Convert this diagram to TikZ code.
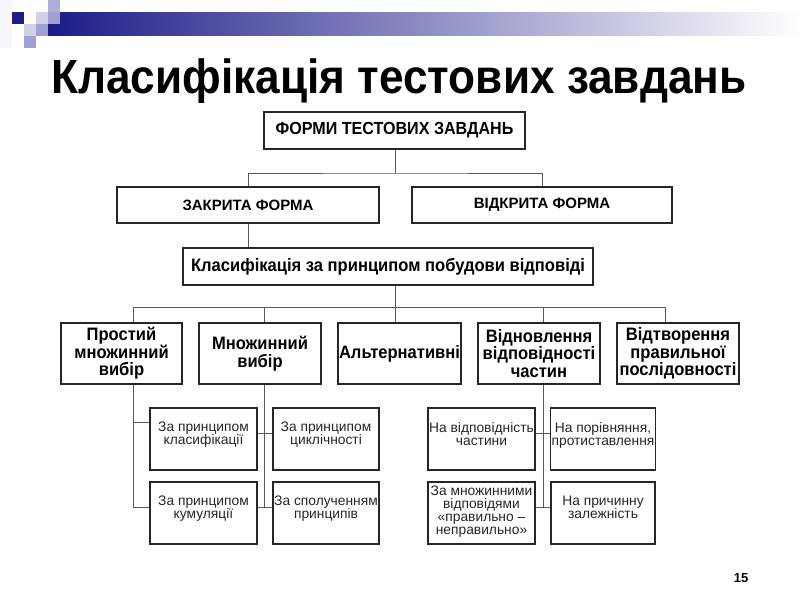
\documentclass[tikz,border=0pt]{standalone}
\usepackage{fontspec}
\setmainfont{Liberation Sans}
\newfontfamily\narrowfont[FakeStretch=0.92]{Liberation Sans}
\newfontfamily\titlefont[FakeStretch=0.92]{Liberation Sans}

\definecolor{barblue}{RGB}{28,28,135}
\definecolor{sqlight}{RGB}{208,208,234}
\definecolor{sqmid}{RGB}{160,160,212}

\begin{document}
\begin{tikzpicture}[x=1pt,y=-1pt,
    box/.style={draw=black!85, line width=1.3pt, rectangle, inner sep=1pt, align=center},
    headbox/.style={box, font=\narrowfont\bfseries\fontsize{17.5pt}{17.5pt}\selectfont},
    formbox/.style={box, minimum width=260pt, minimum height=36pt,
        font=\bfseries\fontsize{15pt}{15pt}\selectfont},
    typebox/.style={box, minimum width=122pt, minimum height=61pt,
        font=\narrowfont\bfseries\fontsize{18pt}{17.5pt}\selectfont},
    subbox/.style={box, minimum width=106pt, minimum height=62pt, text depth=11pt,
        font=\fontsize{13.8pt}{13pt}\selectfont, text=black!85},
    link/.style={draw=black!65, line width=0.9pt}]
    \useasboundingbox (0,0) rectangle (800,600);

    % banner at the top
    \shade[left color=barblue, right color=white] (48,12) rectangle (800,35);
    \fill[white!80!sqlight] (0,0) rectangle (12,48);
    \fill[sqmid!70!sqlight] (48,0) rectangle (60,12);
    \fill[barblue] (12,12) rectangle (24,24);
    \fill[sqlight] (36,12) rectangle (48,24);
    \fill[sqmid] (48,12) rectangle (60,24);
    \fill[sqlight] (24,24) rectangle (36,36);
    \fill[sqmid] (36,24) rectangle (48,36);
    \fill[sqmid] (24,36) rectangle (36,48);

    % title
    \node[anchor=base, font=\titlefont\bfseries\fontsize{48pt}{48pt}\selectfont] (title) at (399,93)
        {Класифікація тестових завдань};

    % forms
    \node[headbox, minimum width=261pt, minimum height=37pt] (forms) at (394.5,130.5) {ФОРМИ ТЕСТОВИХ ЗАВДАНЬ};
    \node[formbox, minimum width=262pt] (closed) at (248,205) {ЗАКРИТА ФОРМА};
    \node[formbox] (open) at (542,205) {ВІДКРИТА ФОРМА};
    \node[headbox, minimum width=410pt, minimum height=37pt, font=\narrowfont\bfseries\fontsize{18pt}{18pt}\selectfont] (klas) at (388,266.5)
        {Класифікація за принципом побудови відповіді};

    % types of closed tasks
    \node[typebox, minimum width=121pt] (b1) at (121.5,353.5) {Простий\\множинний\\вибір};
    \node[typebox] (b2) at (260,353.5) {Множинний\\вибір};
    \node[typebox, minimum width=123pt] (b3) at (399.5,353.5) {Альтернативні};
    \node[typebox] (b4) at (539,353.5) {Відновлення\\відповідності\\частин};
    \node[typebox] (b5) at (678,353.5) {Відтворення\\правильної\\послідовності};

    % subtypes
    \node[subbox, minimum width=107pt] (c1) at (203.5,439) {За принципом\\класифікації};
    \node[subbox, minimum width=107pt] (c2) at (203.5,513) {За принципом\\кумуляції};
    \node[subbox] (c3) at (326,439) {За принципом\\циклічності};
    \node[subbox] (c4) at (326,513) {За сполученням\\принципів};
    \node[subbox, minimum width=107pt] (d1) at (481.5,439) {На відповідність\\частини};
    \node[subbox, minimum width=107pt, text depth=5pt] (d2) at (481.5,513) {За множинними\\відповідями\\«правильно –\\неправильно»};
    \node[subbox, minimum width=104pt] (d3) at (603,439) {На порівняння,\\протиставлення};
    \node[subbox, minimum width=104pt] (d4) at (603,513) {На причинну\\залежність};

    % page number
    \node[anchor=base, font=\bfseries\fontsize{13pt}{13pt}\selectfont] (page) at (741,582) {15};

    % first tree
    \coordinate (j1) at (395,173);
    \draw[link] (forms.south -| j1) -- (j1);
    \draw[link] (closed.north) |- (j1) -| (open.north);
    \draw[link] (closed.south) -- (closed.south |- klas.north);

    % second tree
    \coordinate (j2) at (395,307);
    \coordinate (t1) at (133,307);
    \coordinate (t2) at (264,307);
    \coordinate (t4) at (543,307);
    \coordinate (t5) at (665,307);
    \draw[link] (j2 |- klas.south) -- (j2 |- b3.north);
    \draw[link] (t1) -- (t5);
    \foreach \t/\b in {t1/b1,t2/b2,t4/b4,t5/b5}
        \draw[link] (\t) -- (\t |- \b.north);

    % branches below
    \coordinate (k1) at ([yshift=17pt]c1.west);
    \coordinate (k2) at ([yshift=6pt]c2.west);
    \coordinate (m1) at ([yshift=6pt]c1.east);
    \coordinate (m2) at ([yshift=6pt]c2.east);
    \coordinate (n1) at ([yshift=6pt]d1.east);
    \coordinate (n2) at ([yshift=6pt]d2.east);
    \draw[link] (t1 |- b1.south) |- (k2);
    \draw[link] (t1 |- k1) -- (k1);
    \draw[link] (t2 |- b2.south) -- (t2 |- m2);
    \draw[link] (m1) -- (m1 -| c3.west);
    \draw[link] (m2) -- (m2 -| c4.west);
    \draw[link] (t4 |- b4.south) -- (t4 |- n2);
    \draw[link] (n1) -- (n1 -| d3.west);
    \draw[link] (n2) -- (n2 -| d4.west);
\end{tikzpicture}
\end{document}
